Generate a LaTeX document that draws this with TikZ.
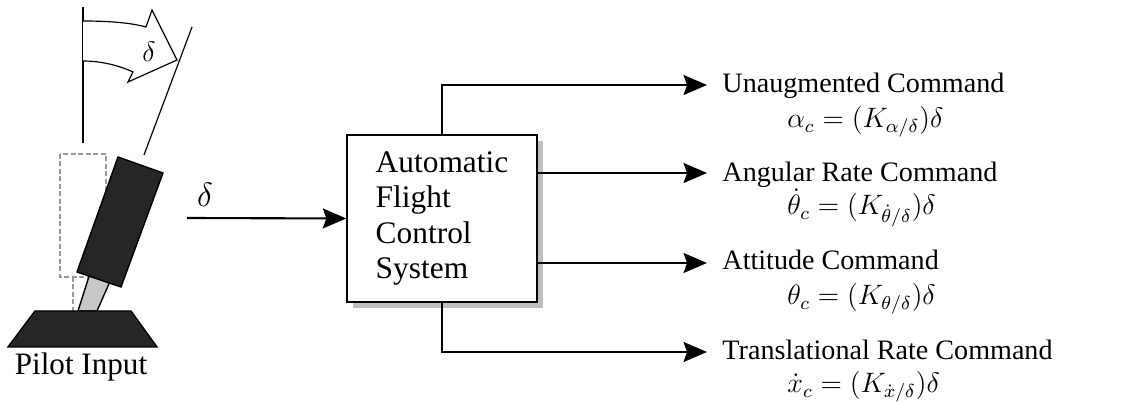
\documentclass[tikz,border=0pt]{standalone}
\usepackage{amsmath}
\usepackage[no-math]{fontspec}
\setmainfont{Liberation Serif}
\usetikzlibrary{arrows.meta,shadows}

\definecolor{grip}{HTML}{262626}
\definecolor{shaft}{HTML}{C8C8C8}
\definecolor{neutral}{HTML}{9A9A9A}

\tikzset{
  sig/.style={-{Stealth[length=10pt,width=8.5pt,inset=1.5pt]}, line width=0.9pt},
  afcsbox/.style={draw, line width=0.6pt, fill=white, align=left,
    minimum width=2.85cm, minimum height=2.5cm,
    font=\fontsize{13.4}{15.2}\selectfont,
    drop shadow={shadow xshift=0.09cm, shadow yshift=-0.09cm, opacity=1, fill=black!25}},
  cmd/.style={anchor=base west, inner sep=0pt, font=\fontsize{12}{14}\selectfont},
  thin line/.style={line width=0.5pt},
}

\begin{document}
\begin{tikzpicture}[x=0.015cm, y=-0.015cm]
\useasboundingbox (0,0) rectangle (1131,404);

% stick at rest
\draw[neutral, dash pattern=on 2pt off 1.2pt, line width=0.8pt] (60,154) rectangle (106,277);
\draw[neutral, dash pattern=on 2pt off 1.2pt, line width=0.8pt] (73,277) -- (73,311);
% deflected stick and base
\filldraw[fill=shaft, line width=0.6pt] (78,311) -- (91,270) -- (112,277) -- (97,311) -- cycle;
\filldraw[fill=grip, line width=0.6pt] (118,157) -- (163,173) -- (121,287) -- (77,272) -- cycle;
\filldraw[fill=grip, line width=0.6pt] (35,311) -- (131,311) -- (157,347) -- (8,347) -- cycle;
\node[anchor=base, inner sep=0pt, font=\fontsize{13.3}{16}\selectfont] (pilot) at (81,375) {Pilot Input};

% deflection angle
\draw[thin line] (83,7) -- (83,143);
\draw[thin line] (192,27) -- (144,155);
\draw[thin line, fill=white] (83,21) .. controls (110,21) and (132,23) .. (146,27)
  -- (152,10) -- (177,60) -- (128,82) -- (133,72)
  .. controls (118,65) and (100,61) .. (83,61);
\node[font=\fontsize{11.5}{14}\selectfont] (defl) at (149,52) {$\delta$};

% controller
\node[afcsbox] (afcs) at (442,218.5) {Automatic\\Flight\\Control\\System};
\coordinate (in) at (187,218);
\draw[sig] (in) -- (afcs.west);
\node[font=\fontsize{14}{16}\selectfont] (din) at (205,195) {$\delta$};

% command outputs
\coordinate (t1) at (707,85);
\coordinate (t2) at (707,173);
\coordinate (t3) at (707,263);
\coordinate (t4) at (707,352);
\draw[sig] (afcs.north) |- (t1);
\draw[sig] (afcs.east |- t2) -- (t2);
\draw[sig] (afcs.east |- t3) -- (t3);
\draw[sig] (afcs.south) |- (t4);

\node[cmd] (c1) at (722,93) {Unaugmented Command};
\node[cmd] (m1) at (787,128) {$\alpha_c = (K_{\alpha/\delta})\delta$};
\node[cmd] (c2) at (722,182) {Angular Rate Command};
\node[cmd] (m2) at (787,215) {$\dot{\theta}_c = (K_{\dot{\theta}/\delta})\delta$};
\node[cmd] (c3) at (722,270) {Attitude Command};
\node[cmd] (m3) at (787,305) {$\theta_c = (K_{\theta/\delta})\delta$};
\node[cmd] (c4) at (722,360) {Translational Rate Command};
\node[cmd] (m4) at (787,393) {$\dot{x}_c = (K_{\dot{x}/\delta})\delta$};
\end{tikzpicture}
\end{document}
